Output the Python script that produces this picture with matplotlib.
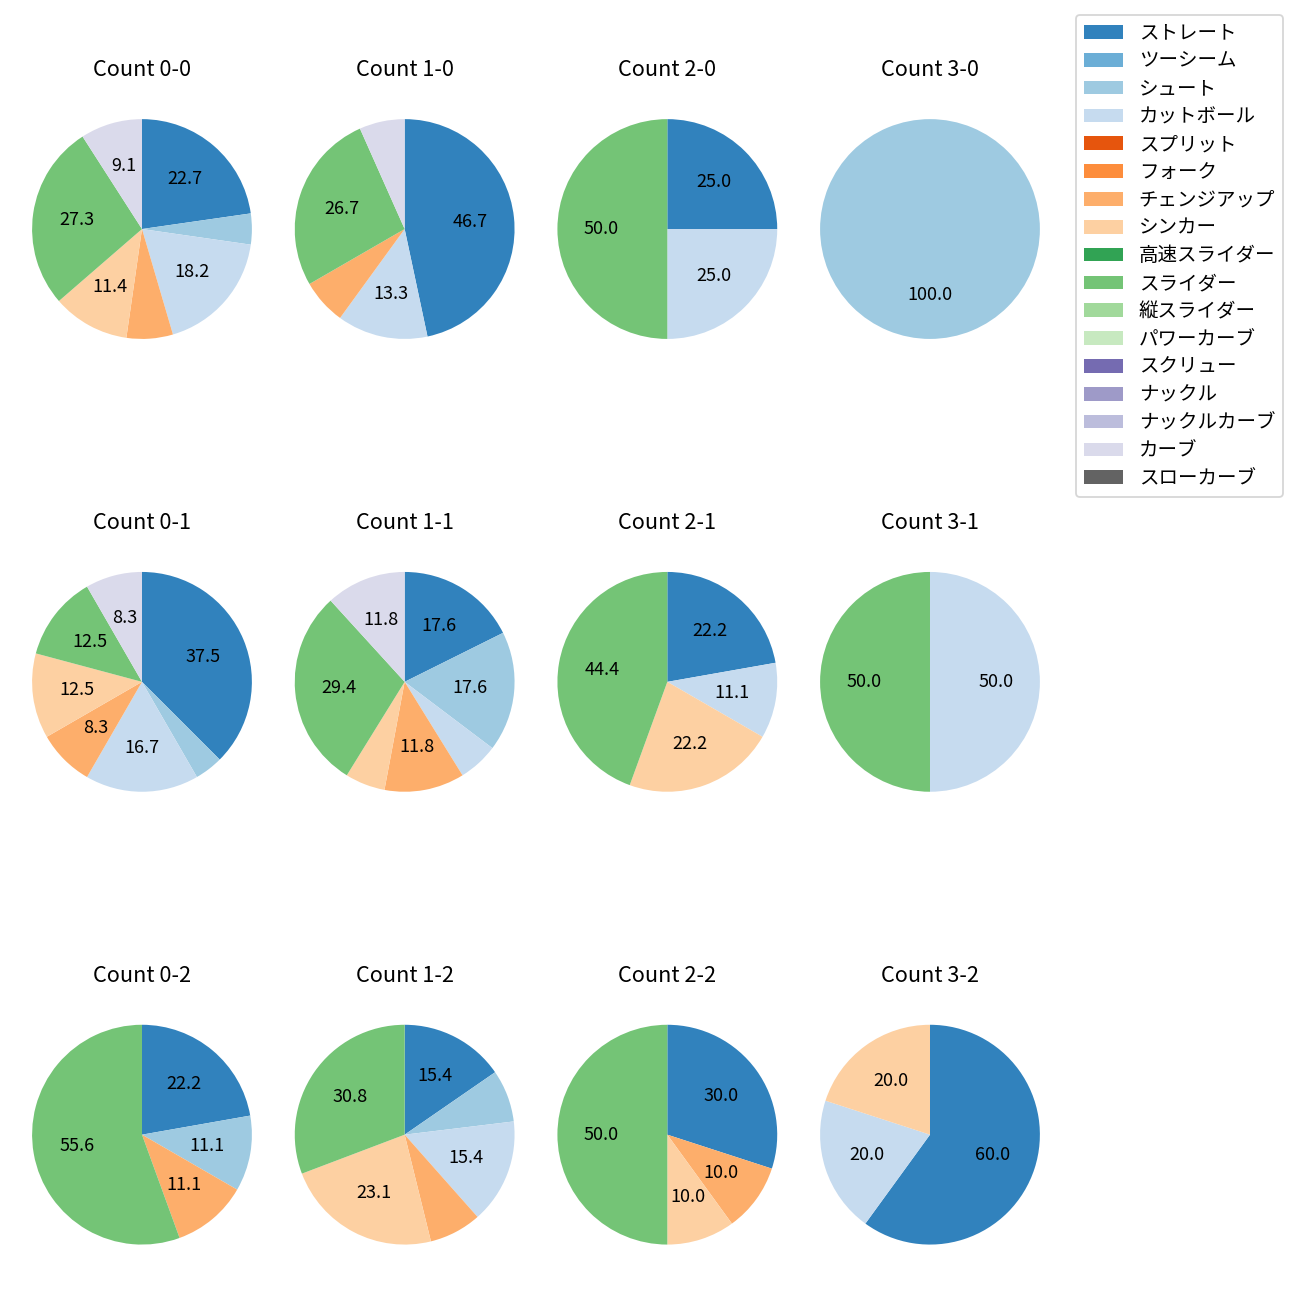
import numpy as np
import matplotlib
matplotlib.use("Agg")
import matplotlib.pyplot as plt
from matplotlib.patches import Patch

plt.rcParams['font.family'] = ['Noto Sans CJK JP', 'DejaVu Sans']

pitch_types = ["ストレート", "ツーシーム", "シュート", "カットボール", "スプリット", "フォーク",
               "チェンジアップ", "シンカー", "高速スライダー", "スライダー", "縦スライダー",
               "パワーカーブ", "スクリュー", "ナックル", "ナックルカーブ", "カーブ", "スローカーブ"]

# pitch counts per ball-strike count, in pitch_types order
c_0_0 = [10, 0, 2, 8, 0, 0, 3, 5, 0, 12, 0, 0, 0, 0, 0, 4, 0]
c_1_0 = [7, 0, 0, 2, 0, 0, 1, 0, 0, 4, 0, 0, 0, 0, 0, 1, 0]
c_2_0 = [1, 0, 0, 1, 0, 0, 0, 0, 0, 2, 0, 0, 0, 0, 0, 0, 0]
c_3_0 = [0, 0, 1, 0, 0, 0, 0, 0, 0, 0, 0, 0, 0, 0, 0, 0, 0]
c_0_1 = [9, 0, 1, 4, 0, 0, 2, 3, 0, 3, 0, 0, 0, 0, 0, 2, 0]
c_1_1 = [3, 0, 3, 1, 0, 0, 2, 1, 0, 5, 0, 0, 0, 0, 0, 2, 0]
c_2_1 = [2, 0, 0, 1, 0, 0, 0, 2, 0, 4, 0, 0, 0, 0, 0, 0, 0]
c_3_1 = [0, 0, 0, 1, 0, 0, 0, 0, 0, 1, 0, 0, 0, 0, 0, 0, 0]
c_0_2 = [2, 0, 1, 0, 0, 0, 1, 0, 0, 5, 0, 0, 0, 0, 0, 0, 0]
c_1_2 = [2, 0, 1, 2, 0, 0, 1, 3, 0, 4, 0, 0, 0, 0, 0, 0, 0]
c_2_2 = [3, 0, 0, 0, 0, 0, 1, 1, 0, 5, 0, 0, 0, 0, 0, 0, 0]
c_3_2 = [3, 0, 0, 1, 0, 0, 0, 1, 0, 0, 0, 0, 0, 0, 0, 0, 0]

count_labels = ["0-0", "1-0", "2-0", "3-0",
                "0-1", "1-1", "2-1", "3-1",
                "0-2", "1-2", "2-2", "3-2"]
count_data = [c_0_0, c_1_0, c_2_0, c_3_0,
              c_0_1, c_1_1, c_2_1, c_3_1,
              c_0_2, c_1_2, c_2_2, c_3_2]

colors = [plt.cm.tab20c(i) for i in range(len(pitch_types))]

fig, axes = plt.subplots(3, 4, figsize=(10, 10), dpi=130)
fig.subplots_adjust(left=0.0082, right=0.8164, top=0.9392, bottom=0.0118,
                    wspace=0.0, hspace=0.5095)

for ax, label, vals in zip(axes.flat, count_labels, count_data):
    idx = [i for i, v in enumerate(vals) if v > 0]
    ax.pie([vals[i] for i in idx], colors=[colors[i] for i in idx],
           startangle=90, counterclock=False, radius=1.046,
           autopct=lambda p: f"{p:.1f}" if p >= 8 else "")
    ax.set_title(f"Count {label}", pad=12)

handles = [Patch(facecolor=c) for c in colors]
fig.legend(handles, pitch_types, loc="upper right", fontsize=10.8,
           labelspacing=0.35,
           bbox_to_anchor=(1283 / 1300, 1 - 15 / 1300), borderaxespad=0)

fig.savefig("out.png")
